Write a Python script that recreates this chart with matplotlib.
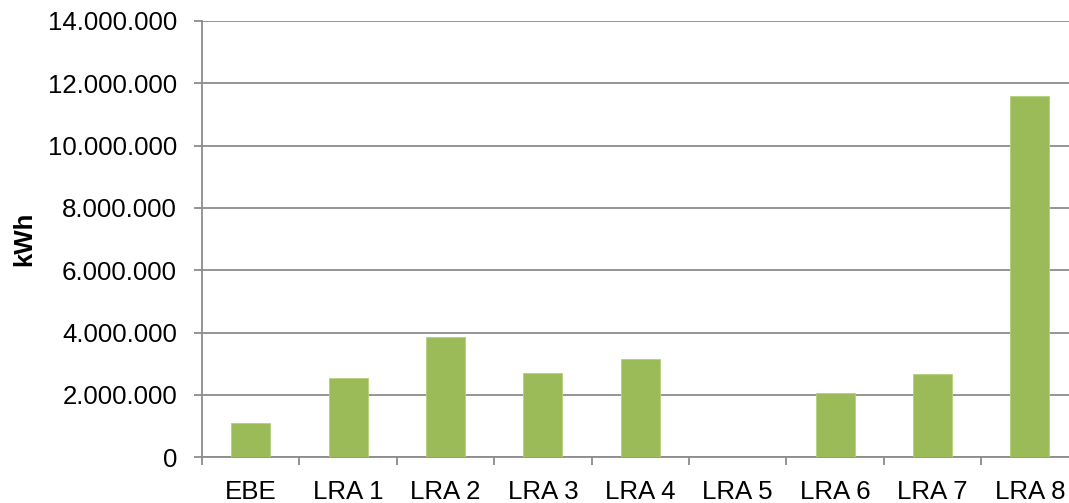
import matplotlib.pyplot as plt
from matplotlib.ticker import FuncFormatter, MultipleLocator

# Stromverbrauch je Standort (kWh)
categories = ["EBE", "LRA 1", "LRA 2", "LRA 3", "LRA 4", "LRA 5", "LRA 6", "LRA 7", "LRA 8"]
values = [1090000, 2560000, 3870000, 2710000, 3160000, 0, 2050000, 2660000, 11600000]

plt.rcParams['font.family'] = ['Liberation Sans', 'DejaVu Sans']

fig = plt.figure(figsize=(10.69, 5.03), dpi=100)
# rechte Kante liegt etwas ausserhalb des Bildes (wie im Original)
ax = fig.add_axes([202 / 1069, 1 - 457.3 / 503, 876.5 / 1069, 436.3 / 503])

grid_col = "#8c8c8c"
x = range(len(categories))
ax.bar(x, values, width=0.40, color="#9bbb59", edgecolor="#b5d07c", linewidth=0.6, zorder=3)

ax.set_ylim(0, 14000000)
ax.set_xlim(-0.5, len(categories) - 0.5)
ax.yaxis.set_major_locator(MultipleLocator(2000000))
ax.yaxis.set_major_formatter(FuncFormatter(lambda v, p: f"{int(v):,}".replace(",", ".")))
ax.grid(axis="y", color=grid_col, linewidth=1.3, zorder=0)

# Kategorie-Ticks zwischen den Balken
ax.set_xticks([i - 0.5 for i in range(len(categories) + 1)], minor=False)
ax.set_xticklabels([])
ax.set_xticks(list(x), minor=True)
ax.set_xticklabels(categories, minor=True)
ax.tick_params(axis="x", which="major", length=6, color=grid_col, width=1.3)
ax.tick_params(axis="x", which="minor", length=0, pad=16, labelsize=18.6)
ax.tick_params(axis="y", length=6, color=grid_col, width=1.3, pad=12, labelsize=18.6)

for s in ["top", "right"]:
    ax.spines[s].set_visible(False)
for s in ["left", "bottom"]:
    ax.spines[s].set_color(grid_col)
    ax.spines[s].set_linewidth(1.3)

ax.set_ylabel("kWh", fontsize=18.6, fontweight="bold")
ax.yaxis.set_label_coords(-166 / 876.5, 0.5)

fig.savefig("out.png", dpi=100)
